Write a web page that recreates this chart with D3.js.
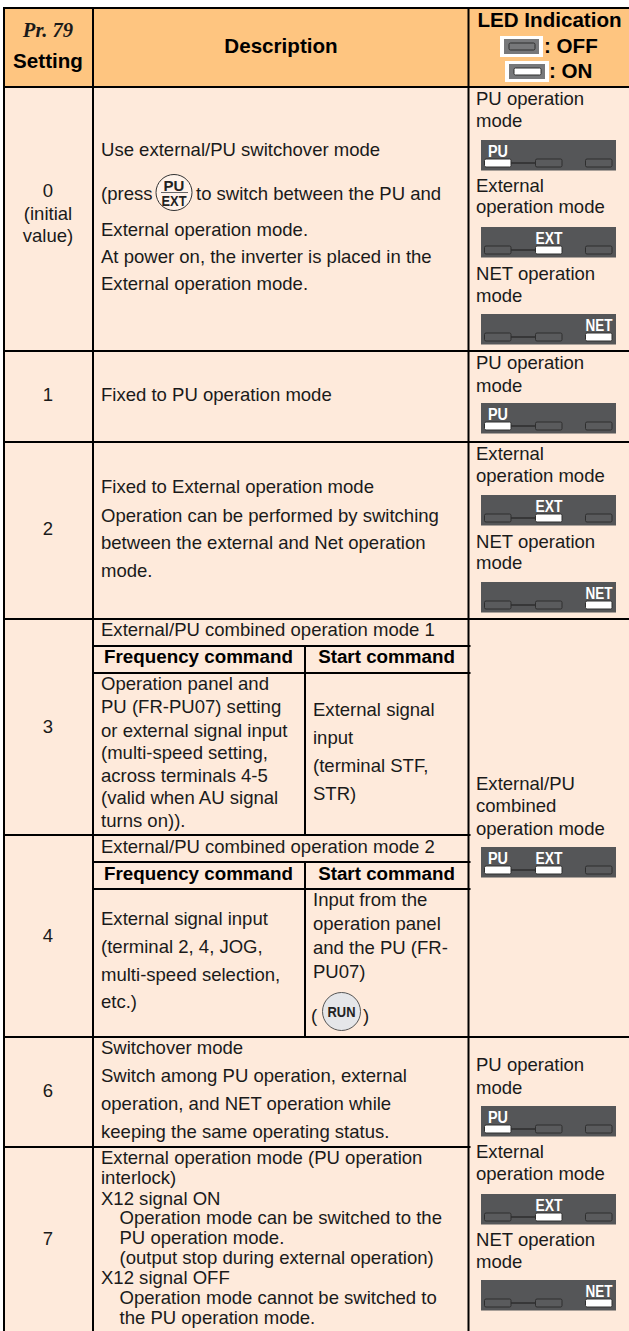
<!DOCTYPE html>
<html>
<head>
<meta charset="utf-8">
<script src="https://cdn.jsdelivr.net/npm/d3@7"></script>
<style>
  body { margin: 0; background: #fff; }
  svg { display: block; }
  text { font-family: "Liberation Sans", Arial, sans-serif; }
</style>
</head>
<body>
<div id="chart"></div>
<script>
// Table content
var settingValues = ["0", "1", "2", "3", "4", "6", "7"];
var settingZeroNote = ["(initial", "value)"];
var headerSetting = ["Pr. 79", "Setting"];
var headerDescription = "Description";
var headerLed = "LED Indication";
var ledOff = ": OFF";
var ledOn = ": ON";
var modeLabels = ["PU", "EXT", "NET"];
var subHeaders = ["Frequency command", "Start command"];

var desc0a = ["Use external/PU switchover mode"];
var desc0b = ["(press", "to switch between the PU and"];
var desc0c = ["External operation mode.", "At power on, the inverter is placed in the", "External operation mode."];
var desc1 = ["Fixed to PU operation mode"];
var desc2 = ["Fixed to External operation mode", "Operation can be performed by switching", "between the external and Net operation", "mode."];
var desc3Title = ["External/PU combined operation mode 1"];
var desc3Freq = ["Operation panel and", "PU (FR-PU07) setting", "or external signal input", "(multi-speed setting,", "across terminals 4-5", "(valid when AU signal", "turns on))."];
var desc3Start = ["External signal", "input", "(terminal STF,", "STR)"];
var desc4Title = ["External/PU combined operation mode 2"];
var desc4Freq = ["External signal input", "(terminal 2, 4, JOG,", "multi-speed selection,", "etc.)"];
var desc4Start = ["Input from the", "operation panel", "and the PU (FR-", "PU07)"];
var desc6 = ["Switchover mode", "Switch among PU operation, external", "operation, and NET operation while", "keeping the same operating status."];
var desc7Flush = ["External operation mode (PU operation", "interlock)", "X12 signal ON"];
var desc7Indent1 = ["Operation mode can be switched to the", "PU operation mode.", "(output stop during external operation)"];
var desc7Flush2 = ["X12 signal OFF"];
var desc7Indent2 = ["Operation mode cannot be switched to", "the PU operation mode."];

var puMode = ["PU operation", "mode"];
var extMode = ["External", "operation mode"];
var netMode = ["NET operation", "mode"];
var comboMode = ["External/PU", "combined", "operation mode"];

// Layout: table rules
var width = 629, height = 1331;
var colX = {left: 4, setting: 93, sub: 305, led: 468.5, right: 629};
var tableTop = 8, headBottom = 87;
var rowBottoms = [351, 442, 619, 835, 1037, 1147, 1331];

var colors = {head: "#fec580", body: "#feeadb", ink: "#1a1a1a", panel: "#555658", off: "#5a5b5d", edge: "#2e2e2e"};
var bodySize = 18.55, headSize = 20.6;

var svg = d3.select("#chart").append("svg")
    .attr("width", width)
    .attr("height", height);

// Cell backgrounds
svg.append("rect").attr("x", colX.left).attr("y", tableTop).attr("width", width - colX.left).attr("height", height - tableTop).attr("fill", colors.body);
svg.append("rect").attr("x", colX.left).attr("y", tableTop).attr("width", width - colX.left).attr("height", headBottom - tableTop).attr("fill", colors.head);

// Rules
var hRules = [
    [colX.left - 1, colX.right, tableTop],
    [colX.left - 1, colX.right, headBottom],
    [colX.left - 1, colX.right, rowBottoms[0]],
    [colX.left - 1, colX.right, rowBottoms[1]],
    [colX.left - 1, colX.right, rowBottoms[2]],
    [colX.setting, colX.led + 2, 646],
    [colX.setting, colX.led + 2, 673],
    [colX.left - 1, colX.led + 2, rowBottoms[3]],
    [colX.setting, colX.led + 2, 862],
    [colX.setting, colX.led + 2, 889],
    [colX.left - 1, colX.right, rowBottoms[4]],
    [colX.left - 1, colX.led + 2, rowBottoms[5]]
];
var vRules = [
    [colX.left, tableTop, height],
    [colX.setting, tableTop, height],
    [colX.led, tableTop, height],
    [colX.sub, 646, 835],
    [colX.sub, 862, 1037]
];
svg.append("g").selectAll("line").data(hRules).join("line")
    .attr("x1", d => d[0]).attr("x2", d => d[1])
    .attr("y1", d => d[2]).attr("y2", d => d[2])
    .attr("stroke", "#000").attr("stroke-width", 2);
svg.append("g").selectAll("line").data(vRules).join("line")
    .attr("x1", d => d[0]).attr("x2", d => d[0])
    .attr("y1", d => d[1]).attr("y2", d => d[2])
    .attr("stroke", "#000").attr("stroke-width", 2);

// Draw a block of text lines, one baseline per line
function lines(list, x, baselines, opts) {
    opts = opts || {};
    return svg.append("g").selectAll("text").data(list).join("text")
        .attr("x", x)
        .attr("y", (d, i) => baselines[i])
        .attr("text-anchor", opts.anchor || "start")
        .attr("font-size", opts.size || bodySize)
        .attr("font-weight", opts.bold ? "bold" : "normal")
        .attr("fill", opts.fill || colors.ink)
        .text(d => d);
}

// Header
lines([headerSetting[0]], 48, [37], {anchor: "middle", size: headSize, bold: true})
    .style("font-family", "'Liberation Serif', serif")
    .style("font-style", "italic");
lines([headerSetting[1]], 48, [68], {anchor: "middle", size: headSize, bold: true, fill: "#000"});
lines([headerDescription], 281, [53], {anchor: "middle", size: headSize, bold: true, fill: "#000"});
lines([headerLed], 549.5, [27], {anchor: "middle", size: headSize, bold: true, fill: "#000"});
lines([ledOff], 544, [53], {size: headSize, bold: true, fill: "#000"});
lines([ledOn], 549, [78], {size: headSize, bold: true, fill: "#000"});

function headerIcon(x, y, w, h, on) {
    var g = svg.append("g");
    g.append("rect").attr("x", x).attr("y", y).attr("width", w).attr("height", h).attr("fill", "#fff");
    g.append("rect").attr("x", x + 4).attr("y", y + 3).attr("width", w - 8).attr("height", h - 6).attr("fill", "#77787a");
    g.append("rect").attr("x", x + 9).attr("y", y + 7).attr("width", w - 17).attr("height", h - 14).attr("rx", 1.5)
        .attr("fill", on ? "#fff" : "#77787a").attr("stroke", colors.edge).attr("stroke-width", 1);
}
headerIcon(500, 36, 43, 21, false);
headerIcon(505, 61, 44, 21, true);

// Setting column
var settingBase = [197, 401, 535, 733, 942, 1097, 1245];
lines(settingValues, 48, settingBase, {anchor: "middle"});
lines(settingZeroNote, 48, [220, 242], {anchor: "middle"});

// Description column
var descX = 101, indentX = 119.5;
lines(desc0a, descX, [156]);
lines([desc0b[0]], descX, [200]);
lines([desc0b[1]], 196, [200]);
lines(desc0c, descX, [236, 263, 290]);
lines(desc1, descX, [401]);
lines(desc2, descX, [493, 522, 549, 577]);
lines(desc3Title, descX, [636]);
lines([subHeaders[0]], 198.5, [663], {anchor: "middle", size: 18.8, bold: true, fill: "#000"});
lines([subHeaders[1]], 386.5, [663], {anchor: "middle", size: 18.8, bold: true, fill: "#000"});
lines(desc3Freq, descX, [690, 713, 737, 759, 782, 804, 827]);
lines(desc3Start, 313, [716, 744, 772, 800]);
lines(desc4Title, descX, [853]);
lines([subHeaders[0]], 198.5, [880], {anchor: "middle", size: 18.8, bold: true, fill: "#000"});
lines([subHeaders[1]], 386.5, [880], {anchor: "middle", size: 18.8, bold: true, fill: "#000"});
lines(desc4Freq, descX, [925, 953, 981, 1008]);
lines(desc4Start, 313, [906, 930, 954, 978]);
lines(desc6, descX, [1054, 1082, 1110, 1138]);
lines(desc7Flush, descX, [1164, 1184, 1205]);
lines(desc7Indent1, indentX, [1224, 1244, 1264]);
lines(desc7Flush2, descX, [1284]);
lines(desc7Indent2, indentX, [1304, 1324]);

// PU/EXT key
var key = svg.append("g").attr("transform", "translate(174,192.5)");
key.append("circle").attr("r", 18).attr("fill", "#fff3ea").attr("stroke", "#333").attr("stroke-width", 1);
key.append("line").attr("x1", -13).attr("x2", 14).attr("stroke", "#666").attr("stroke-width", 1);
key.append("text").attr("y", -2).attr("text-anchor", "middle").attr("font-size", 15).attr("font-weight", "bold").attr("fill", "#222").text("PU");
key.append("text").attr("y", 13.5).attr("text-anchor", "middle").attr("font-size", 15).attr("font-weight", "bold").attr("fill", "#222").attr("textLength", 25).attr("lengthAdjust", "spacingAndGlyphs").text("EXT");

// RUN key
lines(["("], 311, [1022]);
lines([")"], 363, [1022]);
var run = svg.append("g").attr("transform", "translate(341.5,1011.5)");
run.append("circle").attr("r", 19).attr("fill", "#e5e6e9").attr("stroke", "#555").attr("stroke-width", 1);
run.append("text").attr("y", 5.5).attr("text-anchor", "middle").attr("font-size", 15).attr("font-weight", "bold").attr("fill", "#222").attr("textLength", 28).attr("lengthAdjust", "spacingAndGlyphs").text("RUN");

// LED column
var ledX = 476;
lines(puMode, ledX, [105, 127]);
lines(extMode, ledX, [192, 213]);
lines(netMode, ledX, [280, 302]);
lines(puMode, ledX, [369, 392]);
lines(extMode, ledX, [460, 482]);
lines(netMode, ledX, [548, 569]);
lines(comboMode, ledX, [790, 812, 835]);
lines(puMode, ledX, [1071, 1094]);
lines(extMode, ledX, [1158, 1180]);
lines(netMode, ledX, [1246, 1268]);

// Operation panels: which of PU, EXT, NET are lit
var slotX = [484.5, 535.5, 585.5];
var labelWidth = [20, 27, 27];
function panel(y, lit) {
    var g = svg.append("g").attr("transform", "translate(481," + y + ")");
    g.append("rect").attr("width", 135).attr("height", 30.5).attr("fill", colors.panel);
    g.append("line").attr("x1", 30).attr("x2", 54).attr("y1", 23).attr("y2", 23).attr("stroke", colors.edge).attr("stroke-width", 1.5);
    g.selectAll(".led").data(modeLabels).join("rect")
        .attr("class", "led")
        .attr("x", (d, i) => slotX[i] - 481)
        .attr("y", 19)
        .attr("width", 26.5).attr("height", 8).attr("rx", 1.5)
        .attr("fill", d => lit.includes(d) ? "#fff" : colors.off)
        .attr("stroke", colors.edge).attr("stroke-width", 1);
    g.selectAll(".lab").data(modeLabels.filter(d => lit.includes(d))).join("text")
        .attr("class", "lab")
        .attr("x", d => slotX[modeLabels.indexOf(d)] - 481 + 13.5)
        .attr("y", 17)
        .attr("text-anchor", "middle")
        .attr("font-size", 16).attr("font-weight", "bold").attr("fill", "#fff")
        .attr("textLength", d => labelWidth[modeLabels.indexOf(d)])
        .attr("lengthAdjust", "spacingAndGlyphs")
        .text(d => d);
}
panel(140, ["PU"]);
panel(227, ["EXT"]);
panel(314, ["NET"]);
panel(403, ["PU"]);
panel(495, ["EXT"]);
panel(582, ["NET"]);
panel(847, ["PU", "EXT"]);
panel(1106, ["PU"]);
panel(1194, ["EXT"]);
panel(1280, ["NET"]);
</script>
</body>
</html>
